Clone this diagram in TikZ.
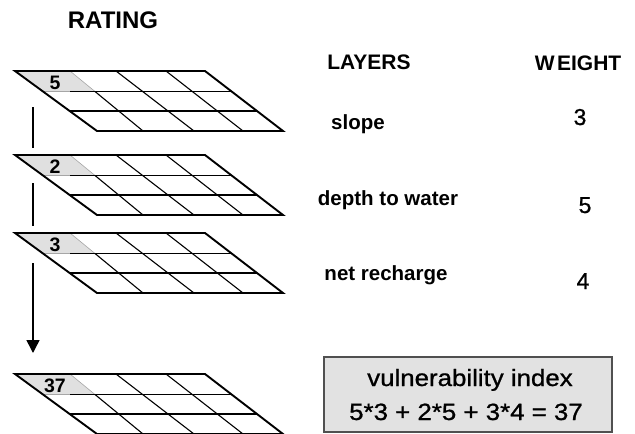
\documentclass[tikz,border=0pt]{standalone}
\usepackage{fontspec}
\setmainfont{Liberation Sans}
\newfontface\medfont[FakeBold=0.9]{Liberation Sans}
\usetikzlibrary{arrows.meta}
\definecolor{cellgray}{RGB}{224,224,224}
\definecolor{boxgray}{RGB}{226,226,226}
\definecolor{edgegray}{RGB}{80,80,80}
\tikzset{
  outline/.style={line width=1.9pt, line join=miter},
  rowline/.style={line width=1.5pt},
  colline/.style={line width=1.1pt},
  celllab/.style={font=\bfseries\fontsize{19.5}{19.5}\selectfont, inner sep=0pt},
  headlab/.style={font=\bfseries\fontsize{21}{21}\selectfont, inner sep=0pt},
  layerlab/.style={font=\bfseries\fontsize{20.5}{20.5}\selectfont, inner sep=0pt},
  weightlab/.style={font=\medfont\fontsize{23}{23}\selectfont, inner sep=0pt},
  boxtext/.style={font=\medfont\fontsize{23.5}{23.5}\selectfont, inner sep=0pt, anchor=base},
}
\newcommand{\gridlayer}[3]{%
  \begin{scope}[shift={(0,#1)}]
    \fill[cellgray] (15,0) -- (70,0) -- (95,20.5) -- (43,20.5) -- cycle;
    \draw[gray!70, line width=0.6pt] (70,0) -- (95,20.5) -- (43,20.5);
    \draw[rowline] (70,20.5) -- (231.5,20.5);
    \draw[rowline] (69.7,40) -- (257,40);
    \draw[colline] (95,20.5) -- (143,60);
    \draw[colline] (116,0) -- (194,60);
    \draw[colline] (166,0) -- (243,60);
    \draw[outline] (15,0) -- (205,0) -- (283,60) -- (97,60) -- cycle;
    \node[celllab] (#3) at (55,11.5) {#2};
  \end{scope}}
\begin{document}
\begin{tikzpicture}[x=1pt,y=-1pt]
  \useasboundingbox (0,0) rectangle (635,434);
  % rating arrow segments
  \coordinate (s1a) at (33,107); \coordinate (s1b) at (33,148);
  \coordinate (s2a) at (33,183); \coordinate (s2b) at (33,226);
  \coordinate (s3a) at (33,263); \coordinate (s3b) at (33,353);
  \draw[line width=1.5pt] (s1a) -- (s1b);
  \draw[line width=1.5pt] (s2a) -- (s2b);
  \draw[line width=1.5pt, -{Triangle[width=13pt,length=13pt]}] (s3a) -- (s3b);
  % layers
  \gridlayer{71}{5}{r1}
  \gridlayer{155}{2}{r2}
  \gridlayer{233}{3}{r3}
  \gridlayer{374}{37}{r4}
  % headings
  \node[font=\bfseries\fontsize{24}{24}\selectfont, inner sep=0pt] (rating) at (113,20) {RATING};
  \node[headlab] (layers) at (369,62) {LAYERS};
  \node[headlab] (weight) at (578,63) {W\kern2.5pt EIGHT};
  % layer names
  \node[layerlab, anchor=base] (slope) at (358,129) {slope};
  \node[layerlab, anchor=base] (depth) at (388,205) {depth to water};
  \node[layerlab, anchor=base] (recharge) at (386,280) {net recharge};
  % weights
  \node[weightlab, anchor=base] (w1) at (580,125) {3};
  \node[weightlab, anchor=base] (w2) at (585,213) {5};
  \node[weightlab, anchor=base] (w3) at (583,289) {4};
  % result box
  \node[draw=edgegray, fill=boxgray, line width=1.4pt, minimum width=288pt, minimum height=75pt, inner sep=0pt] (box) at (468,394.5) {};
  \node[boxtext] (vi) at (470,386) {\scalebox{1.1}[1]{vulnerability index}};
  \node[boxtext] (formula) at (466,420) {\scalebox{1.1}[1]{5*3 + 2*5 + 3*4 = 37}};
\end{tikzpicture}
\end{document}
